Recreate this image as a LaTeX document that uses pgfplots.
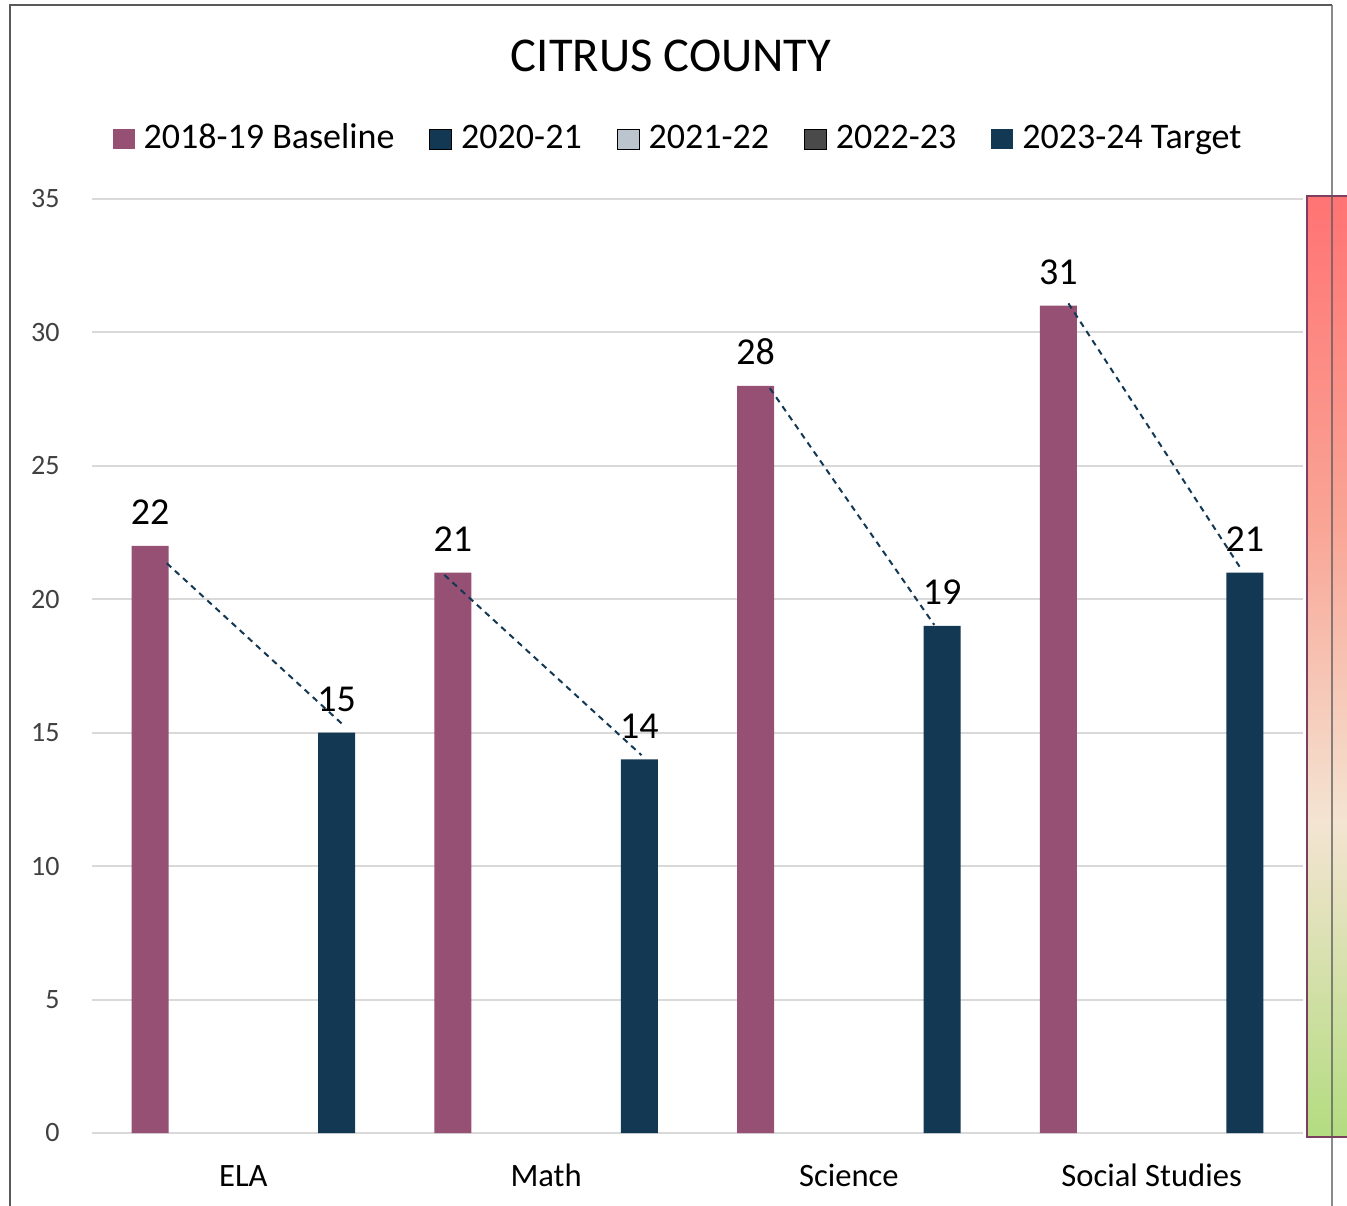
\documentclass[border=0pt]{standalone}
\usepackage{fontspec}
\setmainfont{Carlito}
\usepackage{pgfplots}
\pgfplotsset{compat=1.18}
\definecolor{cbase}{HTML}{965073}
\definecolor{cnavy}{HTML}{133853}
\definecolor{clight}{HTML}{BCC4CE}
\definecolor{cdark}{HTML}{4A4A4A}
\definecolor{cgrid}{HTML}{D9D9D9}
\definecolor{ctick}{HTML}{404040}
\definecolor{gtop}{HTML}{FF7373}
\definecolor{gpink}{HTML}{F9A596}
\definecolor{gmid}{HTML}{F4E4D2}
\definecolor{gbot}{HTML}{B3DC80}
\definecolor{gborder}{HTML}{7B405F}
\definecolor{cframe}{HTML}{595959}
\pgfdeclareverticalshading{redgreen}{100bp}{color(0bp)=(gbot); color(25bp)=(gbot); color(41.75bp)=(gmid); color(57.5bp)=(gpink); color(75bp)=(gtop); color(100bp)=(gtop)}
\begin{document}
\begin{tikzpicture}
\useasboundingbox[fill=white] (0,0) rectangle (673.5pt,602.5pt);
\begin{axis}[
  at={(46pt,36pt)}, anchor=south west, scale only axis,
  width=605.5pt, height=467pt,
  xmin=-0.5, xmax=3.5, ymin=0, ymax=35,
  xtick={0,1,2,3}, xticklabels={ELA,Math,Science,Social Studies},
  ytick={0,5,...,35},
  ymajorgrids, grid style={cgrid, line width=1pt},
  axis line style={draw=none},
  major tick length=0pt,
  /pgf/number format/assume math mode=true,
  yticklabel style={font=\fontsize{14}{16}\selectfont, text=ctick, inner sep=0pt, anchor=east, xshift=-16pt},
  xticklabel style={font=\fontsize{16.3}{19}\selectfont, text=black, inner sep=0pt, anchor=base, yshift=-26.5pt},
  legend columns=5,
  legend style={at={(0.4831,1.0653)}, anchor=center, draw=none, fill=none,
    font=\fontsize{18}{21}\selectfont, text=black,
    cells={anchor=base west}, nodes={inner sep=0pt},
    /tikz/every odd column/.append style={column sep=4.5pt},
    /tikz/every even column/.append style={column sep=17.5pt}},
  legend image code/.code={\fill[#1] (0pt,0pt) rectangle (11pt,10pt);},
  nodes near coords style={font=\fontsize{19}{22}\selectfont, text=black, inner sep=0pt, anchor=south, yshift=10.5pt},
]
\addplot[ybar, bar width=18.5pt, bar shift=-46.6pt, fill=cbase, draw=none, nodes near coords,
  every node near coord/.append style={xshift=-46.6pt}]
  coordinates {(0,22) (1,21) (2,28) (3,31)};
\addlegendentry{2018-19 Baseline}
\addlegendimage{fill=cnavy}
\addlegendentry{2020-21}
\addlegendimage{fill=clight}
\addlegendentry{2021-22}
\addlegendimage{fill=cdark}
\addlegendentry{2022-23}
\addplot[ybar, bar width=18.5pt, bar shift=46.6pt, fill=cnavy, draw=none, nodes near coords,
  every node near coord/.append style={xshift=46.6pt}]
  coordinates {(0,15) (1,14) (2,19) (3,21)};
\addlegendentry{2023-24 Target}
\addplot[forget plot, cnavy, line width=1pt, dash pattern=on 3pt off 2.5pt] coordinates {(-0.253,21.35) (0.330,15.29)};
\addplot[forget plot, cnavy, line width=1pt, dash pattern=on 3pt off 2.5pt] coordinates {(0.664,20.91) (1.315,14.16)};
\addplot[forget plot, cnavy, line width=1pt, dash pattern=on 3pt off 2.5pt] coordinates {(1.739,27.91) (2.282,19.04)};
\addplot[forget plot, cnavy, line width=1pt, dash pattern=on 3pt off 2.5pt] coordinates {(2.725,31.09) (3.294,21.16)};
\end{axis}
\node[anchor=base, inner sep=0pt, font=\fontsize{24.3}{29}\selectfont, text=black] at (335.5pt,566.6pt) {CITRUS COUNTY};
\shade[shading=redgreen] (653.5pt,34pt) rectangle (680pt,504.5pt);
\draw[gborder, line width=1pt] (680pt,34pt) -- (653.5pt,34pt) -- (653.5pt,504.5pt) -- (680pt,504.5pt);
\draw[cframe, line width=1pt] (5pt,-5pt) -- (5pt,600pt) -- (666pt,600pt);
\draw[cframe, line width=1pt, opacity=0.7] (666pt,600pt) -- (666pt,-5pt);
\end{tikzpicture}
\end{document}
